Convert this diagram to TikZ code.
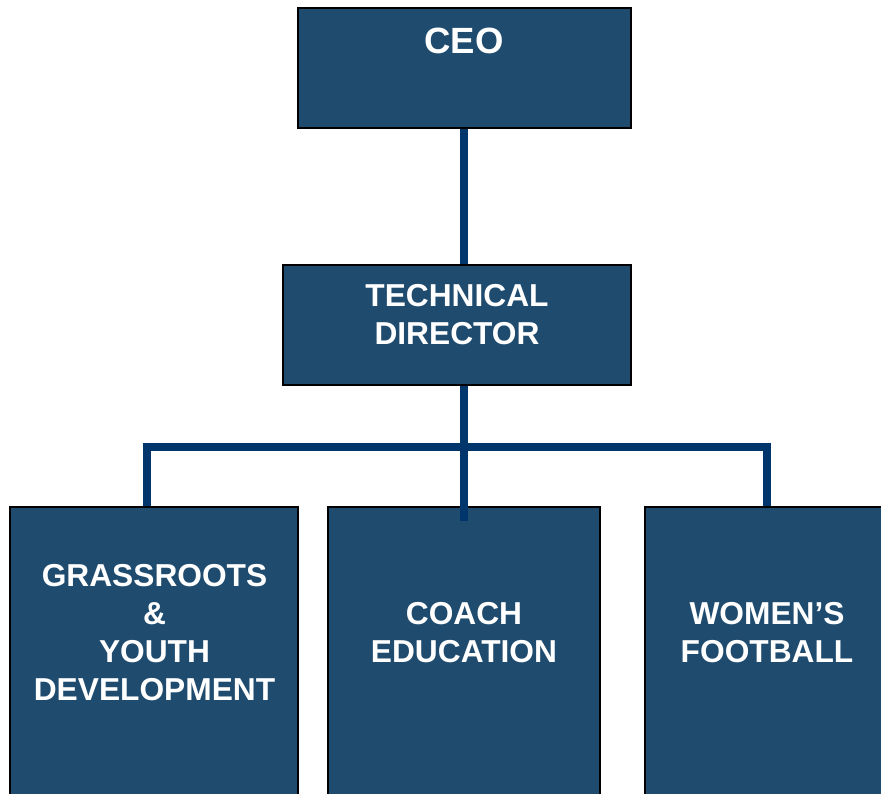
\documentclass[tikz,border=0pt]{standalone}
\usepackage{fontspec}
\setmainfont{Liberation Sans}
\usepackage{tikz}
\usetikzlibrary{positioning}

\definecolor{boxblue}{RGB}{31,75,110}
\definecolor{linkblue}{RGB}{0,54,108}

\begin{document}
\begin{tikzpicture}[x=1pt, y=-1pt,
  unit/.style={draw=black, line width=1.5pt, fill=boxblue, inner sep=0pt},
  lbl/.style={text=white, align=center, inner sep=0pt, anchor=north,
    font=\bfseries\fontsize{31.7}{38}\selectfont},
  link/.style={draw=linkblue, line width=8pt}]
\clip (0,0) rectangle (881,793);
\node[unit, minimum width=333pt, minimum height=120pt] (ceo) at (464.5,68) {};
\node[unit, minimum width=348pt, minimum height=120pt] (td) at (457,325) {};
\node[unit, minimum width=288pt, minimum height=340pt] (grass) at (154,677) {};
\node[unit, minimum width=272pt, minimum height=340pt] (coach) at (464,677) {};
\node[unit, minimum width=244pt, minimum height=340pt] (women) at (767,677) {};
\node[lbl, font=\bfseries\fontsize{36.5}{43}\selectfont] (ceo-t) at ([xshift=-0.5pt, yshift=-20.5pt]ceo.north) {CEO};
\node[lbl] (td-t) at ([yshift=-19.5pt]td.north) {TECHNICAL\\DIRECTOR};
\node[lbl] (grass-t) at ([xshift=0.5pt, yshift=-58pt]grass.north) {GRASSROOTS\\\&\\YOUTH\\DEVELOPMENT};
\node[lbl] (coach-t) at ([yshift=-96pt]coach.north) {COACH\\EDUCATION};
\node[lbl] (women-t) at ([yshift=-96pt]women.north) {WOMEN’S\\FOOTBALL};
% connectors
\coordinate (bar-l) at (146.5,446.5);
\coordinate (bar-r) at (766.5,446.5);
\coordinate (drop-c) at (464,521);
\draw[link] (464,0 |- ceo.south) -- (464,0 |- td.north);
\draw[link] (464,0 |- td.south) -- (drop-c);
\draw[link] (bar-l) -- (bar-r);
\draw[link] ([yshift=4pt]bar-l) -- (bar-l |- grass.north);
\draw[link] ([yshift=4pt]bar-r) -- (bar-r |- women.north);
\end{tikzpicture}
\end{document}
